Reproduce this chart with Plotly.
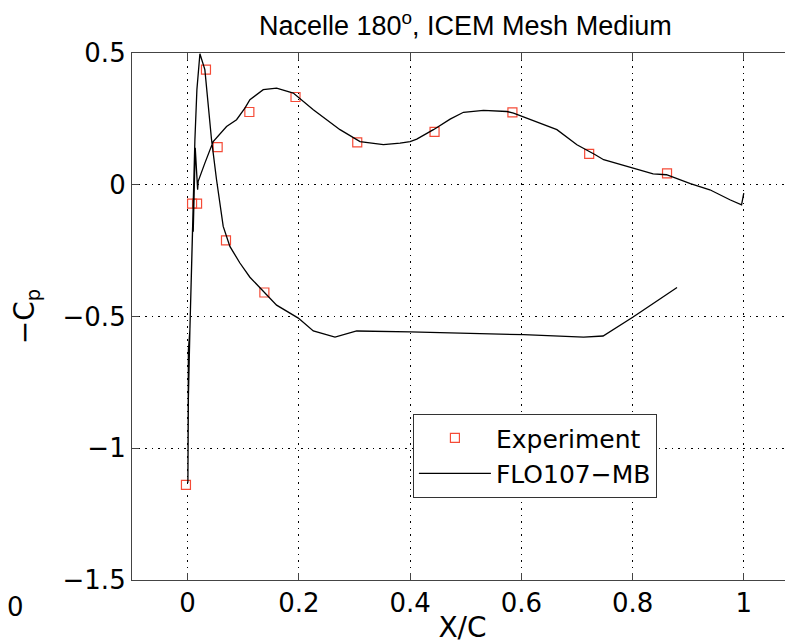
import plotly.graph_objects as go

# Experimental data
exp_x = [-0.003, 0.008, 0.017, 0.033, 0.054, 0.069, 0.111, 0.138, 0.194, 0.305, 0.444, 0.584, 0.722, 0.862]
exp_y = [-1.139, -0.072, -0.072, 0.437, 0.143, -0.211, 0.276, -0.409, 0.333, 0.161, 0.201, 0.275, 0.117, 0.043]

# FLO107-MB computed line (TE upper -> LE -> lower)
cfd_x = [1.000, 0.996, 0.975, 0.939, 0.904, 0.861, 0.837, 0.801, 0.772, 0.748, 0.733, 0.700,
         0.664, 0.634, 0.586, 0.574, 0.532, 0.496, 0.472, 0.442, 0.412, 0.400, 0.382, 0.352,
         0.310, 0.274, 0.226, 0.190, 0.160, 0.136, 0.112, 0.103, 0.088, 0.070, 0.046, 0.031,
         0.019, 0.018,
         0.0137, 0.0101, 0.0131, 0.0086, 0.0104, 0.0068, 0.0041, 0.0014, 0.0011, 0.0005,
         0.0014, 0.0041, 0.0072, 0.0101, 0.0131, 0.0167, 0.0203, 0.0221,
         0.031, 0.043, 0.052, 0.064, 0.076, 0.094, 0.112, 0.136, 0.160, 0.199, 0.226, 0.265,
         0.304, 0.400, 0.604, 0.712, 0.747, 0.801, 0.880]
cfd_y = [-0.032, -0.076, -0.057, -0.019, 0.004, 0.038, 0.041, 0.063, 0.082, 0.095, 0.114, 0.152,
         0.209, 0.234, 0.272, 0.278, 0.282, 0.275, 0.249, 0.209, 0.173, 0.164, 0.158, 0.152,
         0.164, 0.209, 0.285, 0.348, 0.367, 0.361, 0.323, 0.291, 0.247, 0.221, 0.164, 0.082,
         0.013, -0.019,
         0.140, -0.178, 0.095, -0.190, -0.057, -0.277, -0.551, -0.626, -0.892, -1.131,
         -0.810, -0.551, -0.266, -0.057, 0.171, 0.361, 0.475, 0.497,
         0.437, 0.171, 0.019, -0.158, -0.234, -0.297, -0.351, -0.405, -0.457, -0.506, -0.555, -0.578,
         -0.555, -0.558, -0.569, -0.578, -0.574, -0.502, -0.390]

x_ticks = [0, 0.2, 0.4, 0.6, 0.8, 1]
x_labels = ["0", "0.2", "0.4", "0.6", "0.8", "1"]
y_ticks = [-1.5, -1, -0.5, 0, 0.5]
y_labels = ["\u22121.5", "\u22121", "\u22120.5", "0", "0.5"]

fig = go.Figure()
fig.add_trace(go.Scatter(
    x=exp_x, y=exp_y, mode="markers", name="Experiment",
    marker=dict(symbol="square-open", size=9, color="rgb(245,75,55)", line=dict(width=1.2)),
))
fig.add_trace(go.Scatter(
    x=cfd_x, y=cfd_y, mode="lines", name="FLO107\u2212MB",
    line=dict(color="black", width=1.3),
))

axis_font = dict(family="DejaVu Sans", size=26, color="black")

fig.update_layout(
    width=785, height=636,
    margin=dict(l=124, r=0, t=45, b=64),
    paper_bgcolor="white", plot_bgcolor="white",
    showlegend=True,
    legend=dict(
        x=0.4247, y=0.315, xanchor="left", yanchor="top",
        bgcolor="white", bordercolor="#333", borderwidth=1.2,
        font=dict(family="DejaVu Sans", size=25, color="black"),
        itemwidth=72, tracegroupgap=0,
    ),
    xaxis=dict(
        range=[-0.1, 1.0885], tickvals=x_ticks, ticktext=x_labels,
        showgrid=True, gridcolor="black", griddash="1.5px,5px", gridwidth=1,
        zeroline=False, showline=True, linecolor="#444", linewidth=1.2,
        mirror="ticks", ticks="inside", ticklen=7, tickcolor="#444",
        tickfont=axis_font,
        title=dict(text="X/C", font=dict(family="DejaVu Sans", size=28, color="black"), standoff=0),
    ),
    yaxis=dict(
        range=[-1.5, 0.5], tickvals=y_ticks, ticktext=y_labels,
        showgrid=True, gridcolor="black", griddash="1.5px,5px", gridwidth=1,
        zeroline=False, showline=True, linecolor="#444", linewidth=1.2,
        mirror=False, ticks="inside", ticklen=7, tickcolor="#444",
        tickfont=axis_font,
        title=dict(text="\u2212C<sub>p</sub>", font=dict(family="DejaVu Sans", size=28, color="black"), standoff=20),
    ),
    annotations=[
        dict(text="Nacelle 180<sup>o</sup>, ICEM Mesh Medium", xref="paper", yref="paper",
             x=0.505, y=1.055, xanchor="center", yanchor="middle", showarrow=False,
             font=dict(family="Liberation Sans", size=27, color="black")),
        dict(text="0", xref="paper", yref="paper", x=-0.176, y=-0.051,
             xanchor="center", yanchor="middle", showarrow=False,
             font=dict(family="DejaVu Sans", size=26, color="black")),
    ],
)

fig.write_html("out.html")
